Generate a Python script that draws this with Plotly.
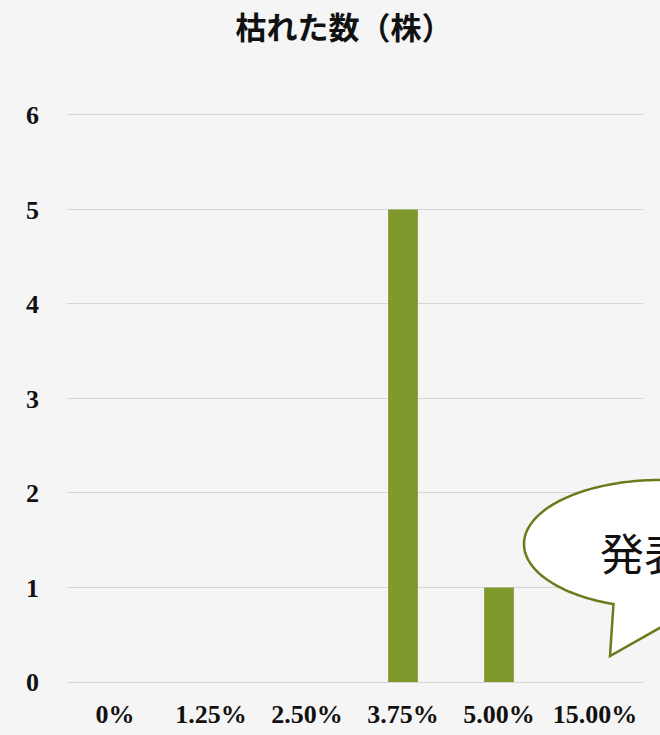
import numpy as np
import plotly.graph_objects as go

# 枯れた株の数（濃度別）
categories = ["0%", "1.25%", "2.50%", "3.75%", "5.00%", "15.00%"]
dead_counts = [0, 0, 0, 5, 1, 0]
y_ticks = [0, 1, 2, 3, 4, 5, 6]
bubble_text = "発表"

W, H = 660, 735
L, R, T, B = 67, 17, 113, 53
PW, PH = W - L - R, H - T - B

def px(x, y):
    """pixel position -> paper coordinates"""
    return (x - L) / PW, 1 - (y - T) / PH

SERIF = "Liberation Serif, DejaVu Serif, serif"

fig = go.Figure()
fig.add_trace(go.Bar(
    x=categories, y=dead_counts,
    marker=dict(color="#7f992d", line=dict(width=0)),
    width=0.31,
))

# speech bubble: ellipse outline with a tail pointing down-left
cx, cy, rx, ry = 660, 544, 136, 64
ang = np.linspace(np.deg2rad(73), np.deg2rad(110 - 360), 200)
ell = [(cx + rx * np.cos(a), cy + ry * np.sin(a)) for a in ang]
seq = ell + [(610, 656)]
d = ""
for i, (x, y) in enumerate(seq):
    u, v = px(x, y)
    d += ("M" if i == 0 else " L") + f"{u:.5f},{v:.5f}"
d += " Z"
fig.add_shape(type="path", path=d, xref="paper", yref="paper",
              fillcolor="white", line=dict(color="#6b7b1c", width=2.5),
              layer="above")
tu, tv = px(598, 552)
fig.add_annotation(x=tu, y=tv, xref="paper", yref="paper", text=bubble_text,
                   showarrow=False, xanchor="left", yanchor="middle",
                   font=dict(family="Noto Sans CJK JP", size=44, color="#111"))

fig.update_layout(
    width=W, height=H,
    margin=dict(l=L, r=R, t=T, b=B, autoexpand=False),
    paper_bgcolor="#f5f5f5", plot_bgcolor="#f5f5f5",
    showlegend=False,
    title=dict(text="枯れた数（株）", x=344 / W, xanchor="center",
               y=1 - 28 / H, yanchor="middle",
               font=dict(family="Noto Sans CJK JP", size=31, color="#111",
                         weight="bold")),
    xaxis=dict(type="category", showgrid=False, zeroline=False, showline=False,
               automargin=False, ticks="",
               tickfont=dict(family=SERIF, size=26, color="#111", weight="bold"),
               ticklabelstandoff=14),
    yaxis=dict(range=[0, 6.02], tickvals=y_ticks, showgrid=True, gridcolor="#d6d6d6",
               gridwidth=1.3, zeroline=True, zerolinecolor="#d6d6d6",
               zerolinewidth=1.3, showline=False, ticks="", automargin=False,
               tickfont=dict(family=SERIF, size=26, color="#111", weight="bold"),
               ticklabelstandoff=27),
    bargap=0.69,
)

fig.write_html("out.html")
